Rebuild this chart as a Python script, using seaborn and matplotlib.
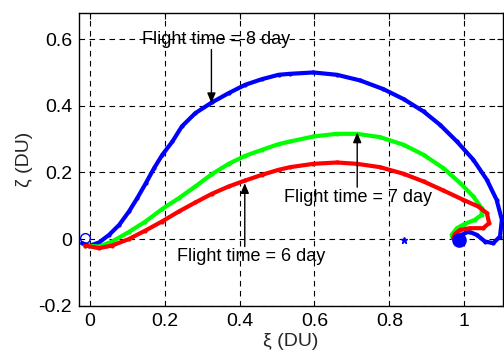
import matplotlib
matplotlib.use("Agg")
import matplotlib.pyplot as plt
import seaborn as sns
import pandas as pd

# ---- data ----
blue_x = [-0.02, -0.001, 0.025, 0.052, 0.079, 0.105, 0.127, 0.15, 0.172, 0.194, 0.221, 0.246, 0.282,
          0.326, 0.371, 0.415, 0.46, 0.504, 0.535, 0.597, 0.66, 0.722, 0.784, 0.838, 0.891,
          0.935, 0.98, 1.024, 1.06, 1.086, 1.10, 1.095, 1.077, 1.055, 1.033, 1.011, 0.993, 0.984]
blue_y = [-0.012, -0.02, -0.01, 0.013, 0.043, 0.083, 0.123, 0.168, 0.213, 0.253, 0.293, 0.338, 0.378,
          0.41, 0.438, 0.463, 0.48, 0.493, 0.496, 0.5, 0.493, 0.476, 0.45, 0.42, 0.383,
          0.343, 0.293, 0.238, 0.178, 0.118, 0.058, 0.008, -0.012, -0.007, 0.013, 0.023, 0.013, -0.002]

green_x = [-0.011, 0.025, 0.06, 0.104, 0.149, 0.193, 0.238, 0.282, 0.326, 0.371, 0.415, 0.46,
           0.504, 0.535, 0.597, 0.66, 0.713, 0.775, 0.838, 0.891, 0.944, 0.989, 1.024, 1.046,
           1.046, 1.028, 1.001, 0.98, 0.966, 0.969]
green_y = [-0.019, -0.022, -0.007, 0.021, 0.053, 0.09, 0.123, 0.158, 0.195, 0.226, 0.25, 0.268,
           0.285, 0.293, 0.308, 0.316, 0.316, 0.306, 0.283, 0.253, 0.213, 0.168, 0.128, 0.093,
           0.073, 0.058, 0.046, 0.033, 0.013, 0.003]

red_x = [-0.011, 0.025, 0.06, 0.104, 0.149, 0.193, 0.238, 0.282, 0.326, 0.371, 0.415, 0.46,
         0.504, 0.535, 0.597, 0.66, 0.713, 0.775, 0.838, 0.891, 0.944, 0.997, 1.037, 1.06,
         1.066, 1.05, 1.015, 0.989, 0.975, 0.97]
red_y = [-0.019, -0.027, -0.019, 0.0, 0.026, 0.053, 0.083, 0.11, 0.136, 0.158, 0.176, 0.193,
         0.208, 0.216, 0.226, 0.23, 0.226, 0.216, 0.196, 0.173, 0.146, 0.118, 0.098, 0.078,
         0.048, 0.033, 0.033, 0.028, 0.016, 0.003]

start_pt = (-0.012, 0.003)     # open blue circle
end_pt = (0.985, -0.002)       # filled blue dot
star_pt = (0.838, -0.002)      # blue star

labels = ["Flight time = 8 day", "Flight time = 7 day", "Flight time = 6 day"]
label_xy = [(0.337, 0.599), (0.716, 0.126), (0.431, -0.053)]
arrow_tail = [(0.325, 0.569), (0.714, 0.156), (0.414, -0.022)]
arrow_tip = [(0.325, 0.408), (0.714, 0.32), (0.414, 0.168)]

x_ticks = [0, 0.2, 0.4, 0.6, 0.8, 1]
x_ticklabels = ["0", "0.2", "0.4", "0.6", "0.8", "1"]
y_ticks = [-0.2, 0, 0.2, 0.4, 0.6]
y_ticklabels = ["-0.2", "0", "0.2", "0.4", "0.6"]

# ---- plotting ----
sns.set_style("white")
plt.rcParams['font.family'] = ['Liberation Sans', 'DejaVu Sans']

fig = plt.figure(figsize=(5.04, 3.54), dpi=100)
ax = fig.add_axes([0.157, 0.136, 0.841, 0.826])

curves = [(blue_x, blue_y, "#0000ff"), (green_x, green_y, "#00ff00"), (red_x, red_y, "#ff0000")]
for xs, ys, col in curves:
    df = pd.DataFrame({"x": xs, "y": ys})
    sns.lineplot(data=df, x="x", y="y", sort=False, estimator=None, ax=ax,
                 color=col, linewidth=3.0, marker=".", markersize=6,
                 markeredgewidth=0, zorder=3)

ax.plot(*start_pt, marker="o", markersize=7, markerfacecolor="none",
        markeredgecolor="#0000ff", markeredgewidth=1, zorder=4)
ax.plot(*end_pt, marker="o", markersize=9.5, color="#0000ff", zorder=4)
ax.plot(*star_pt, marker="*", markersize=5, color="#0000ff", zorder=4)

for lab, (tx, ty), (ax0, ay0), (ax1, ay1) in zip(labels, label_xy, arrow_tail, arrow_tip):
    ax.annotate("", xy=(ax1, ay1), xytext=(ax0, ay0),
                arrowprops=dict(arrowstyle="-|>,head_length=0.6,head_width=0.25",
                                color="black", lw=1, shrinkA=0, shrinkB=0), zorder=5)
    ax.text(tx, ty, lab, ha="center", va="center", fontsize=13, color="black", zorder=5)

ax.set_xlim(-0.028, 1.103)
ax.set_ylim(-0.2, 0.677)
ax.set_xticks(x_ticks)
ax.set_xticklabels(x_ticklabels)
ax.set_yticks(y_ticks)
ax.set_yticklabels(y_ticklabels)
ax.tick_params(direction="in", length=4, width=0.8, top=True, right=True,
               labelsize=14, colors="black", pad=5)
ax.grid(True, linestyle=(0, (5, 4)), color="black", linewidth=0.8)
ax.set_axisbelow(True)
for s in ax.spines.values():
    s.set_color("black")
    s.set_linewidth(1.0)
    s.set_visible(True)

ax.set_xlabel("ξ (DU)", fontsize=14, labelpad=2)
ax.set_ylabel("ζ (DU)", fontsize=14, labelpad=4)

fig.savefig("out.png", dpi=100)
